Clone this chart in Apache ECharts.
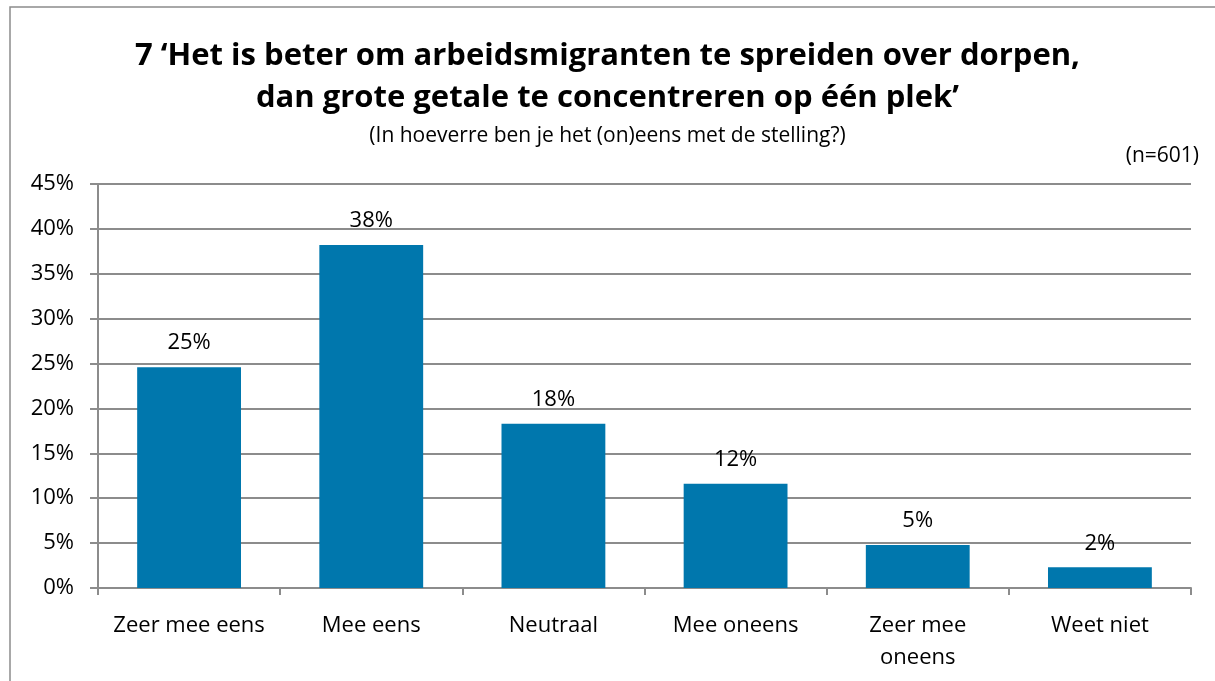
<!DOCTYPE html>
<html>
<head>
<meta charset="utf-8">
<script src="https://cdn.jsdelivr.net/npm/echarts@6/dist/echarts.min.js"></script>
<style>
	html, body { margin: 0; padding: 0; background: #fff; }
	#chart { width: 1215px; height: 681px; }
</style>
</head>
<body>
<div id="chart"></div>
<script>
var categories = ['Zeer mee eens', 'Mee eens', 'Neutraal', 'Mee oneens', 'Zeer mee\noneens', 'Weet niet'];
var values = [24.6, 38.2, 18.3, 11.6, 4.8, 2.3];
var titleLines = ['7 \u2018Het is beter om arbeidsmigranten te spreiden over dorpen,', 'dan grote getale te concentreren op \u00e9\u00e9n plek\u2019'];
var subtitle = '(In hoeverre ben je het (on)eens met de stelling?)';
var sampleNote = '(n=601)';

var font = '"Open Sans", sans-serif';
var chart = echarts.init(document.getElementById('chart'));
chart.setOption({
	animation: false,
	graphic: [{
		type: 'rect',
		shape: { x: 10, y: 7, width: 1210, height: 690 },
		style: { fill: 'none', stroke: '#8c8c8c', lineWidth: 1.5 }
	}, {
		type: 'text',
		left: 'center',
		top: 35,
		style: { text: titleLines.join('\n'), font: 'bold 31px ' + font, fill: '#000', textAlign: 'center', lineHeight: 42 }
	}, {
		type: 'text',
		left: 'center',
		top: 126,
		style: { text: subtitle, font: '21px ' + font, fill: '#000' }
	}, {
		type: 'text',
		right: 16,
		top: 146,
		style: { text: sampleNote, font: '21px ' + font, fill: '#000' }
	}],
	grid: {
		left: 98,
		right: 24,
		top: 184,
		bottom: 93,
		containLabel: false
	},
	xAxis: {
		type: 'category',
		data: categories,
		axisLine: { lineStyle: { color: '#8c8c8c', width: 2 } },
		axisTick: { show: true, length: 7, alignWithLabel: false, lineStyle: { color: '#8c8c8c', width: 2 } },
		axisLabel: { fontSize: 22, fontFamily: font, color: '#000', margin: 22, lineHeight: 32, interval: 0 }
	},
	yAxis: {
		type: 'value',
		min: 0,
		max: 45,
		interval: 5,
		axisLine: { show: true, lineStyle: { color: '#8c8c8c', width: 2 } },
		axisTick: { show: true, length: 8, lineStyle: { color: '#8c8c8c', width: 2 } },
		splitLine: { lineStyle: { color: '#8c8c8c', width: 2 } },
		axisLabel: { fontSize: 22, fontFamily: font, color: '#000', margin: 24, formatter: '{value}%' }
	},
	series: [{
		type: 'bar',
		data: values,
		barWidth: '57%',
		itemStyle: { color: '#0077ad' },
		label: {
			show: true,
			position: 'top',
			distance: 13,
			fontSize: 22,
			fontFamily: font,
			color: '#000',
			formatter: function (p) { return Math.round(p.value) + '%'; }
		}
	}]
});
</script>
</body>
</html>
